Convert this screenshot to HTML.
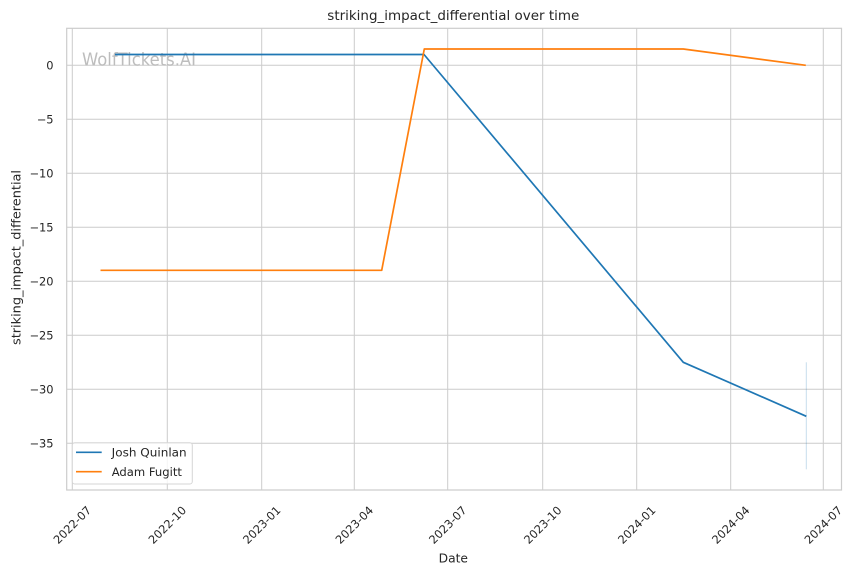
<!DOCTYPE html>
<html>
<head>
<meta charset="utf-8">
<style>
html,body{margin:0;padding:0;background:#fff;}
svg{display:block;}
text{font-family:"DejaVu Sans","Liberation Sans",sans-serif;fill:#262626;}
</style>
</head>
<body>
<svg width="855" height="575" viewBox="0 0 855 575" xmlns="http://www.w3.org/2000/svg">
<rect x="0" y="0" width="855" height="575" fill="#fff"/>
<!-- grid -->
<g stroke="#cccccc" stroke-width="1" fill="none">
<line x1="72.3" y1="28.3" x2="72.3" y2="490"/>
<line x1="167.3" y1="28.3" x2="167.3" y2="490"/>
<line x1="261.7" y1="28.3" x2="261.7" y2="490"/>
<line x1="354.3" y1="28.3" x2="354.3" y2="490"/>
<line x1="447.7" y1="28.3" x2="447.7" y2="490"/>
<line x1="542.7" y1="28.3" x2="542.7" y2="490"/>
<line x1="636.7" y1="28.3" x2="636.7" y2="490"/>
<line x1="730.7" y1="28.3" x2="730.7" y2="490"/>
<line x1="823.3" y1="28.3" x2="823.3" y2="490"/>
<line x1="66.7" y1="65.3" x2="841.5" y2="65.3"/>
<line x1="66.7" y1="119.3" x2="841.5" y2="119.3"/>
<line x1="66.7" y1="173.3" x2="841.5" y2="173.3"/>
<line x1="66.7" y1="227.3" x2="841.5" y2="227.3"/>
<line x1="66.7" y1="281.3" x2="841.5" y2="281.3"/>
<line x1="66.7" y1="335.3" x2="841.5" y2="335.3"/>
<line x1="66.7" y1="389.3" x2="841.5" y2="389.3"/>
<line x1="66.7" y1="443.3" x2="841.5" y2="443.3"/>
</g>
<!-- spines -->
<rect x="66.7" y="28.3" width="774.8" height="461.7" fill="none" stroke="#cccccc" stroke-width="1.2"/>
<!-- watermark -->
<text x="82" y="65.3" font-size="17.5" textLength="114" lengthAdjust="spacingAndGlyphs" style="fill:#bdbdbd">WolfTickets.AI</text>
<!-- error band -->
<line x1="806.3" y1="362.3" x2="806.3" y2="469.3" stroke="#1f77b4" stroke-opacity="0.25" stroke-width="1"/>
<!-- series -->
<polyline points="115,54.5 424,54.5 683.3,362.3 806.3,416.3" fill="none" stroke="#1f77b4" stroke-width="1.7" stroke-linejoin="round"/>
<polyline points="100.5,270.3 381.7,270.3 424.3,49 683.3,49 805.8,65.3" fill="none" stroke="#ff7f0e" stroke-width="1.7" stroke-linejoin="round"/>
<!-- legend -->
<rect x="72.3" y="442.7" width="120" height="41.3" rx="2.5" ry="2.5" fill="#ffffff" fill-opacity="0.8" stroke="#d6d6d6" stroke-width="1"/>
<line x1="76" y1="452.3" x2="101.7" y2="452.3" stroke="#1f77b4" stroke-width="1.7"/>
<line x1="76" y1="471.7" x2="101.7" y2="471.7" stroke="#ff7f0e" stroke-width="1.7"/>
<text x="111.7" y="456.5" font-size="11.6" textLength="75" lengthAdjust="spacingAndGlyphs">Josh Quinlan</text>
<text x="111.7" y="475.9" font-size="11.6">Adam Fugitt</text>
<!-- title -->
<text x="453.3" y="20" font-size="13.3" text-anchor="middle" textLength="252" lengthAdjust="spacingAndGlyphs">striking_impact_differential over time</text>
<!-- y ticks -->
<g font-size="11.4" text-anchor="end">
<text x="53.5" y="69.4">0</text>
<text x="53.5" y="123.4">−5</text>
<text x="53.5" y="177.4">−10</text>
<text x="53.5" y="231.4">−15</text>
<text x="53.5" y="285.4">−20</text>
<text x="53.5" y="339.4">−25</text>
<text x="53.5" y="393.4">−30</text>
<text x="53.5" y="447.4">−35</text>
</g>
<!-- y label -->
<text transform="translate(20.5,257.5) rotate(-90)" font-size="12.8" text-anchor="middle" textLength="175" lengthAdjust="spacingAndGlyphs">striking_impact_differential</text>
<!-- x ticks -->
<g font-size="11.4" text-anchor="middle" dominant-baseline="central">
<text transform="translate(72.3,525) rotate(-45)">2022-07</text>
<text transform="translate(167.3,525) rotate(-45)">2022-10</text>
<text transform="translate(261.7,525) rotate(-45)">2023-01</text>
<text transform="translate(354.3,525) rotate(-45)">2023-04</text>
<text transform="translate(447.7,525) rotate(-45)">2023-07</text>
<text transform="translate(542.7,525) rotate(-45)">2023-10</text>
<text transform="translate(636.7,525) rotate(-45)">2024-01</text>
<text transform="translate(730.7,525) rotate(-45)">2024-04</text>
<text transform="translate(823.3,525) rotate(-45)">2024-07</text>
</g>
<!-- x label -->
<text x="453.3" y="562.5" font-size="12.3" text-anchor="middle">Date</text>
</svg>
</body>
</html>
